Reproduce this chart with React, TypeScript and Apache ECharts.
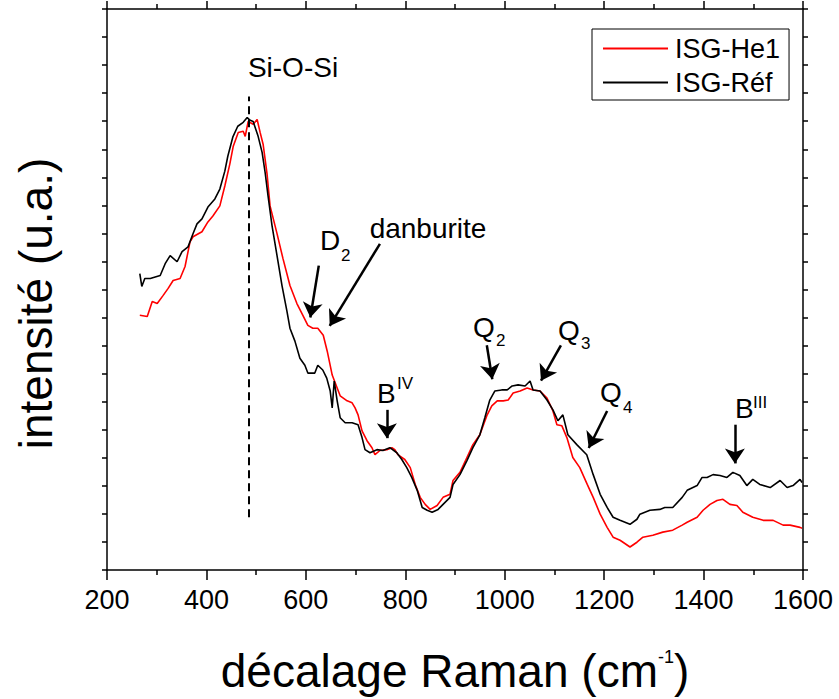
import React, { useEffect, useRef } from "react";
import * as echarts from "echarts";

// Raman shift (cm-1) and intensity (a.u.)
const shiftRef = [266,270,276,287,307,317,327,341,351,363,373,381,391,403,417,427,437,443,453,463,474,482,488,494,504,512,518,524,532,542,552,562,568,578,588,598,604,618,624,634,642,649,653,657,663,669,679,693,705,713,719,729,743,755,769,783,793,803,813,824,834,844,854,866,876,890,896,910,924,936,950,960,970,980,994,1005,1015,1027,1041,1051,1057,1071,1085,1097,1107,1117,1127,1145,1165,1178,1192,1206,1218,1232,1252,1266,1272,1292,1312,1322,1338,1357,1367,1387,1397,1407,1419,1433,1447,1459,1473,1487,1499,1513,1534,1554,1568,1580,1594,1598];
const intensRef = [10.57,10.11,10.39,10.39,10.50,10.92,11.21,10.99,11.35,11.52,11.99,12.34,12.52,12.94,13.23,13.58,14.22,14.75,15.43,15.82,15.96,16.13,16.03,15.99,15.46,14.89,14.18,13.33,12.27,11.21,10.14,9.22,8.62,8.16,7.55,7.30,7.02,7.02,7.30,7.13,6.84,6.38,5.78,6.74,6.03,5.43,5.25,5.25,5.18,4.72,4.29,4.18,4.29,4.26,4.36,4.18,3.94,3.65,3.30,2.84,2.23,2.13,2.06,2.16,2.34,2.59,3.05,3.40,3.90,4.36,4.82,5.43,6.06,6.38,6.42,6.42,6.56,6.60,6.56,6.74,6.42,6.38,6.06,5.71,5.32,5.53,4.82,4.47,4.11,3.40,2.70,2.23,1.88,1.77,1.63,1.81,1.99,2.13,2.16,2.23,2.23,2.59,2.84,3.01,3.30,3.30,3.40,3.37,3.30,3.48,3.37,3.01,3.23,3.05,2.94,3.19,2.94,3.01,3.23,3.12];

const shiftHe = [266,281,291,301,313,323,333,347,357,367,373,391,403,413,427,437,447,454,464,474,478,484,494,502,508,514,522,528,542,554,568,582,594,604,614,624,635,643,653,663,669,683,693,699,705,713,723,733,739,749,763,773,779,785,799,810,820,830,840,850,864,876,890,896,910,924,936,950,964,974,985,997,1007,1017,1031,1045,1057,1071,1085,1097,1105,1115,1125,1137,1151,1166,1178,1192,1206,1218,1232,1252,1266,1278,1298,1318,1338,1357,1367,1387,1399,1413,1427,1439,1453,1467,1479,1499,1520,1540,1560,1574,1594,1598];
const intensHe = [9.08,9.04,9.57,9.50,9.79,10.04,10.32,10.39,10.82,11.70,11.88,12.06,12.41,12.62,12.98,13.69,14.47,15.11,15.60,15.64,15.46,15.99,15.89,16.06,15.60,15.18,14.11,12.98,11.99,11.10,10.14,9.50,9.08,8.72,8.62,8.62,8.37,7.80,6.95,6.49,6.21,6.03,5.96,5.78,5.53,4.96,4.61,4.36,4.11,4.26,4.29,4.36,4.29,4.11,3.94,3.65,3.05,2.59,2.34,2.16,2.30,2.59,2.70,3.19,3.48,4.01,4.47,4.82,5.50,5.85,6.03,6.03,6.06,6.31,6.38,6.49,6.42,6.38,6.13,5.67,5.18,5.14,4.72,4.01,3.65,3.05,2.59,1.99,1.52,1.17,1.06,0.82,0.99,1.17,1.24,1.35,1.42,1.60,1.70,1.88,2.13,2.34,2.48,2.52,2.34,2.30,2.06,1.88,1.77,1.77,1.60,1.60,1.52,1.49];

const seriesNames = ["ISG-He1", "ISG-Réf"];
const xTicks = { min: 200, max: 1600, interval: 200 };

// Si-O-Si reference line (shift, from, to)
const siOSiShift = 486;
const siOSiRange = [1.88, 16.88];

// annotation arrows in data coordinates: [fromShift, fromInt, toShift, toInt]
const arrows = [
  [626, 10.85, 609, 9.0],   // D2
  [749, 11.63, 648, 8.7],   // danburite
  [763, 5.71, 763, 4.7],    // B IV
  [964, 8.01, 975, 6.8],    // Q2
  [1113, 8.01, 1073, 6.75], // Q3
  [1206, 5.67, 1169, 4.35], // Q4
  [1463, 5.18, 1463, 3.8],  // B III
];

// annotation texts
const labels = [
  { text: "Si-O-Si", x: 293, y: 67, size: 28, align: "center" },
  { text: "danburite", x: 428, y: 228, size: 28, align: "center" },
  { text: "D", x: 320, y: 240, size: 28, align: "left" },
  { text: "2", x: 341, y: 255, size: 17, align: "left" },
  { text: "Q", x: 473, y: 327, size: 28, align: "left" },
  { text: "2", x: 496, y: 340, size: 17, align: "left" },
  { text: "Q", x: 558, y: 330, size: 28, align: "left" },
  { text: "3", x: 581, y: 343, size: 17, align: "left" },
  { text: "Q", x: 600, y: 392, size: 28, align: "left" },
  { text: "4", x: 623, y: 407, size: 17, align: "left" },
  { text: "B", x: 377, y: 393, size: 28, align: "left" },
  { text: "IV", x: 397, y: 383, size: 17, align: "left" },
  { text: "B", x: 735, y: 408, size: 28, align: "left" },
  { text: "III", x: 753, y: 402, size: 17, align: "left" },
];

const FONT = "'Liberation Sans', Arial, Helvetica, sans-serif";

export default function App() {
  const ref = useRef<HTMLDivElement>(null);
  useEffect(() => {
    if (!ref.current) return;
    const chart = echarts.init(ref.current, undefined, { renderer: "svg" });
    const axisLine = { show: true, onZero: false, lineStyle: { color: "#000", width: 1.5 } };
    const markLineData: any[] = [
      [
        { coord: [siOSiShift, siOSiRange[0]], symbol: "none", lineStyle: { type: [8, 5], width: 2, color: "#000" } },
        { coord: [siOSiShift, siOSiRange[1]], symbol: "none" },
      ],
      ...arrows.map((a) => [
        { coord: [a[0], a[1]], symbol: "none", lineStyle: { type: "solid", width: 2.5, color: "#000" } },
        { coord: [a[2], a[3]], symbol: "arrow", symbolSize: 15 },
      ]),
    ];
    chart.setOption({
      animation: false,
      backgroundColor: "#fff",
      textStyle: { fontFamily: FONT },
      grid: { left: 107, right: 36, top: 9, bottom: 126, containLabel: false },
      legend: {
        orient: "vertical",
        left: 592,
        top: 29,
        padding: [6, 9, 4, 11],
        borderColor: "#000",
        borderWidth: 1,
        icon: "rect",
        itemWidth: 65,
        itemHeight: 2,
        itemGap: 7,
        textStyle: { fontSize: 27, lineHeight: 27, color: "#000", fontFamily: FONT, padding: [0, 0, 0, 2] },
        data: seriesNames,
      },
      xAxis: [
        {
          type: "value",
          position: "bottom",
          min: xTicks.min,
          max: xTicks.max,
          interval: xTicks.interval,
          name: "décalage Raman (cm{sup|-1})",
          nameLocation: "middle",
          nameGap: 78,
          nameTextStyle: {
            fontSize: 46,
            color: "#000",
            fontFamily: FONT,
            rich: { sup: { fontSize: 18, verticalAlign: "top", color: "#000", fontFamily: FONT } },
          },
          axisLine,
          axisTick: { show: true, inside: false, length: 10, lineStyle: { color: "#000", width: 1.5 } },
          minorTick: { show: true, splitNumber: 2, length: 5, lineStyle: { color: "#000", width: 1.5 } },
          axisLabel: {
            show: true,
            fontSize: 27,
            color: "#000",
            margin: 16,
            fontFamily: FONT,
            formatter: (v: number) => String(v),
          },
          splitLine: { show: false },
          minorSplitLine: { show: false },
        },
        {
          type: "value",
          position: "top",
          min: xTicks.min,
          max: xTicks.max,
          interval: xTicks.interval,
          axisLine,
          axisTick: { show: true, inside: false, length: 8, lineStyle: { color: "#000", width: 1.5 } },
          minorTick: { show: true, splitNumber: 2, length: 5, lineStyle: { color: "#000", width: 1.5 } },
          axisLabel: { show: false },
          splitLine: { show: false },
          minorSplitLine: { show: false },
        },
      ],
      yAxis: [
        {
          type: "value",
          position: "left",
          min: 0,
          max: 20,
          interval: 1,
          name: "intensité (u.a.)",
          nameLocation: "middle",
          nameGap: 48,
          nameRotate: 90,
          nameTextStyle: { fontSize: 46, color: "#000", fontFamily: FONT, padding: [0, 28, 0, 0] },
          axisLine,
          axisTick: { show: true, inside: false, length: 5, lineStyle: { color: "#000", width: 1.5 } },
          axisLabel: { show: false },
          splitLine: { show: false },
        },
        {
          type: "value",
          position: "right",
          min: 0,
          max: 20,
          interval: 1,
          axisLine,
          axisTick: { show: true, inside: false, length: 5, lineStyle: { color: "#000", width: 1.5 } },
          axisLabel: { show: false },
          splitLine: { show: false },
        },
      ],
      series: [
        {
          name: seriesNames[0],
          type: "line",
          symbol: "none",
          data: shiftHe.map((x, i) => [x, intensHe[i]]),
          lineStyle: { color: "#ff0000", width: 1.6 },
          itemStyle: { color: "#ff0000" },
          z: 2,
        },
        {
          name: seriesNames[1],
          type: "line",
          symbol: "none",
          data: shiftRef.map((x, i) => [x, intensRef[i]]),
          lineStyle: { color: "#000", width: 1.6 },
          itemStyle: { color: "#000" },
          z: 3,
          markLine: {
            silent: true,
            animation: false,
            label: { show: false },
            emphasis: { disabled: true },
            data: markLineData,
          },
        },
      ],
      graphic: labels.map((l) => ({
        type: "text",
        x: l.x,
        y: l.y,
        silent: true,
        style: {
          text: l.text,
          fontSize: l.size,
          fontFamily: FONT,
          fill: "#000",
          align: l.align,
          verticalAlign: "middle",
        },
      })),
    });
    return () => chart.dispose();
  }, []);
  return (
    <div
      ref={ref}
      style={{ position: "absolute", left: 0, top: 0, width: 839, height: 699, background: "#fff" }}
    />
  );
}
